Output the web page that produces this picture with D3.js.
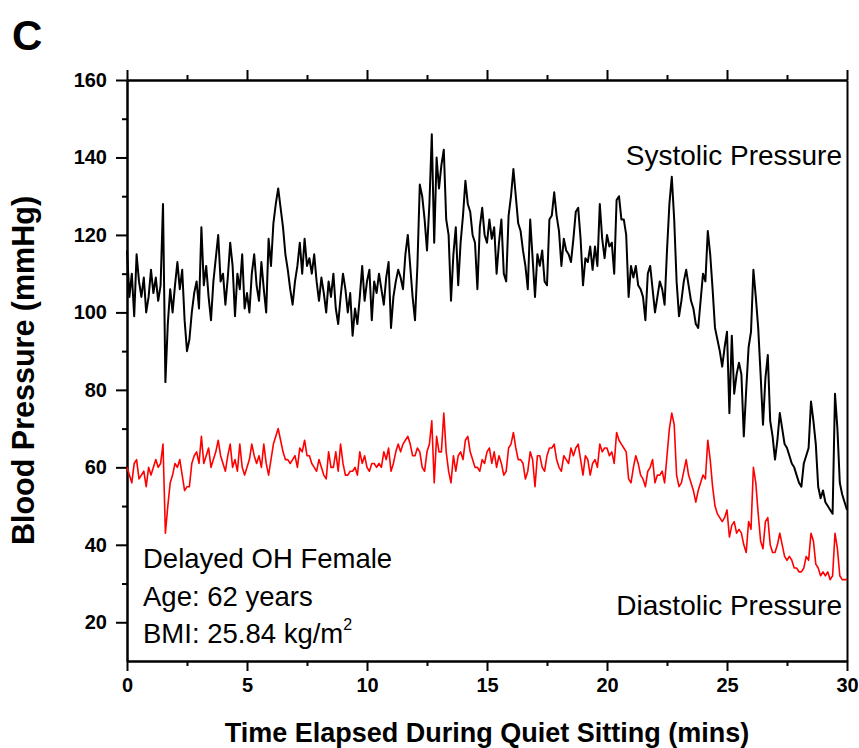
<!DOCTYPE html>
<html><head><meta charset="utf-8">
<script src="https://cdn.jsdelivr.net/npm/d3@7"></script>
<style>body{margin:0;background:#fff} svg{display:block}</style>
</head><body>
<svg id="chart" width="859" height="748"></svg>
<script>
// ---- data ----
const timeStep = 0.1; // minutes between consecutive samples, starting at 0
const systolic = [
116,104,110,99,115,108,104,109,100,104,
111,105,109,103,107,128,82,97,106,100,
107,113,106,111,98,90,93,100,105,108,
101,122,107,112,104,98,108,114,120,108,
110,102,109,118,112,99,110,106,115,101,
105,100,110,115,107,103,113,106,100,119,
112,123,128,132,127,122,115,111,106,102,
108,112,118,110,119,112,114,110,115,108,
103,109,105,100,108,104,110,101,97,104,
110,106,100,105,94,101,97,104,112,103,
108,111,98,108,105,110,106,102,109,113,
96,104,108,111,109,106,115,120,112,104,
98,112,133,130,124,116,128,146,118,140,
132,138,142,124,120,103,115,122,107,118,
125,134,128,126,120,118,106,122,127,120,
118,124,119,122,110,118,124,110,108,125,
130,137,130,123,121,116,112,106,124,114,
104,115,112,116,108,107,124,125,131,125,
121,112,119,116,115,113,119,126,127,119,
107,114,113,117,111,117,112,128,119,114,
120,117,118,110,129,130,124,124,120,104,
112,109,112,107,106,104,98,110,112,106,
100,104,108,106,102,116,128,135,124,108,
99,103,108,111,107,103,101,97,96,103,
110,108,121,115,106,96,93,90,86,91,
95,74,94,79,84,87,84,68,80,91,
95,111,104,96,84,71,83,89,72,68,
62,67,74,70,66,65,63,61,60,58,
56,55,61,63,65,77,72,66,55,52,
54,51,50,49,48,79,70,56,53,51,
49];
const diastolic = [
60,58,56,61,62,57,58,59,55,60,
58,60,62,60,61,66,43,50,56,58,
61,60,62,58,54,55,55,61,63,64,
61,68,61,63,65,60,62,64,67,63,
61,59,63,66,60,62,59,66,60,58,
60,62,66,63,61,63,60,66,61,58,
62,66,68,70,67,64,62,62,61,62,
63,60,65,64,67,63,63,61,60,59,
62,60,58,57,64,60,60,64,59,66,
61,58,58,59,59,60,58,64,61,63,
60,59,61,61,60,61,60,64,62,65,
59,61,64,66,64,66,67,68,66,63,
63,65,64,60,59,64,66,72,56,68,
64,64,74,64,59,56,63,59,63,64,
62,67,68,64,62,60,60,59,62,61,
64,65,61,64,60,63,61,58,59,65,
66,69,65,62,62,61,57,59,64,62,
55,63,63,60,59,63,65,65,66,62,
60,59,63,62,61,65,63,65,66,62,
58,63,62,58,61,62,60,66,64,65,
65,63,64,61,69,67,66,65,64,57,
56,60,63,61,58,57,55,59,60,62,
56,58,58,59,56,63,70,74,71,58,
55,56,59,62,58,56,54,51,54,56,
58,57,67,62,55,50,48,47,46,47,
49,42,45,46,43,44,43,40,38,46,
44,60,56,48,41,39,46,47,40,38,
38,40,43,40,37,36,37,36,34,34,
33,33,34,37,36,43,41,35,34,32,
33,32,33,31,32,43,39,32,31,31,
31];
const xMajorTicks = [0,5,10,15,20,25,30];
const xMinorTicks = [2.5,7.5,12.5,17.5,22.5,27.5];
const yMajorTicks = [20,40,60,80,100,120,140,160];
const yMinorTicks = [30,50,70,90,110,130,150];
const xDomain = [0,30];
const yDomain = [10,160];
const panelLabel = "C";
const xTitle = "Time Elapsed During Quiet Sitting (mins)";
const yTitle = "Blood Pressure (mmHg)";
const systolicLabel = "Systolic Pressure";
const diastolicLabel = "Diastolic Pressure";
const infoLines = ["Delayed OH Female", "Age: 62 years", "BMI: 25.84 kg/m"];

// ---- drawing ----
const FONT = "'Liberation Sans', Arial, Helvetica, sans-serif";
const svg = d3.select("#chart");
const L = 127, R = 847, T = 80, B = 661;
const x = d3.scaleLinear().domain(xDomain).range([L, R]);
const y = d3.scaleLinear().domain(yDomain).range([B, T]);

function styleAxis(g) {
  g.selectAll("path.domain").attr("stroke", "#000").attr("stroke-width", 2);
  g.selectAll(".tick line").attr("stroke", "#000").attr("stroke-width", 2);
  g.selectAll(".tick text").attr("font-family", FONT).attr("font-size", 20)
    .attr("font-weight", "bold").attr("fill", "#000");
}

// bottom
svg.append("g").attr("transform", `translate(0,${B})`)
  .call(d3.axisBottom(x).tickValues(xMinorTicks).tickSize(5).tickSizeOuter(0).tickFormat(""))
  .call(styleAxis);
svg.append("g").attr("transform", `translate(0,${B})`)
  .call(d3.axisBottom(x).tickValues(xMajorTicks).tickSize(10).tickSizeOuter(0).tickPadding(7).tickFormat(d3.format("d")))
  .call(styleAxis);
// top
svg.append("g").attr("transform", `translate(0,${T})`)
  .call(d3.axisTop(x).tickValues(xMinorTicks).tickSize(5).tickSizeOuter(0).tickFormat(""))
  .call(styleAxis);
svg.append("g").attr("transform", `translate(0,${T})`)
  .call(d3.axisTop(x).tickValues(xMajorTicks).tickSize(10).tickSizeOuter(0).tickFormat(""))
  .call(styleAxis);
// left
svg.append("g").attr("transform", `translate(${L},0)`)
  .call(d3.axisLeft(y).tickValues(yMinorTicks).tickSize(5).tickSizeOuter(0).tickFormat(""))
  .call(styleAxis);
svg.append("g").attr("transform", `translate(${L},0)`)
  .call(d3.axisLeft(y).tickValues(yMajorTicks).tickSize(11).tickSizeOuter(0).tickPadding(9).tickFormat(d3.format("d")))
  .call(styleAxis);
// right (plain line)
svg.append("g").attr("transform", `translate(${R},0)`)
  .call(d3.axisRight(y).tickValues([]).tickSizeOuter(0))
  .call(styleAxis);

// lines
const line = d3.line().x((d, i) => x(i * timeStep)).y(d => y(d));
svg.append("path").datum(systolic).attr("d", line)
  .attr("fill", "none").attr("stroke", "#000").attr("stroke-width", 2).attr("stroke-linejoin", "round");
svg.append("path").datum(diastolic).attr("d", line)
  .attr("fill", "none").attr("stroke", "#f00").attr("stroke-width", 1.6).attr("stroke-linejoin", "round");

// texts
svg.append("text").attr("x", 12).attr("y", 50).text(panelLabel)
  .attr("font-family", FONT).attr("font-size", 42).attr("font-weight", "bold");
svg.append("text").attr("x", (L + R) / 2).attr("y", 742).attr("text-anchor", "middle").text(xTitle)
  .attr("font-family", FONT).attr("font-size", 27).attr("font-weight", "bold");
svg.append("text").attr("transform", `translate(34,${(T + B) / 2}) rotate(-90)`).attr("text-anchor", "middle").text(yTitle)
  .attr("font-family", FONT).attr("font-size", 30.5).attr("font-weight", "bold");
svg.append("text").attr("x", 842).attr("y", 165).attr("text-anchor", "end").text(systolicLabel)
  .attr("font-family", FONT).attr("font-size", 28);
svg.append("text").attr("x", 842).attr("y", 615).attr("text-anchor", "end").text(diastolicLabel)
  .attr("font-family", FONT).attr("font-size", 28);
const infoY = [568, 606, 643];
infoLines.forEach((t, i) => {
  const tx = svg.append("text").attr("x", 143).attr("y", infoY[i])
    .attr("font-family", FONT).attr("font-size", 27.5).text(t);
  if (i === 2) tx.append("tspan").attr("dy", -13).attr("font-size", 16).text("2");
});
</script>
</body></html>
